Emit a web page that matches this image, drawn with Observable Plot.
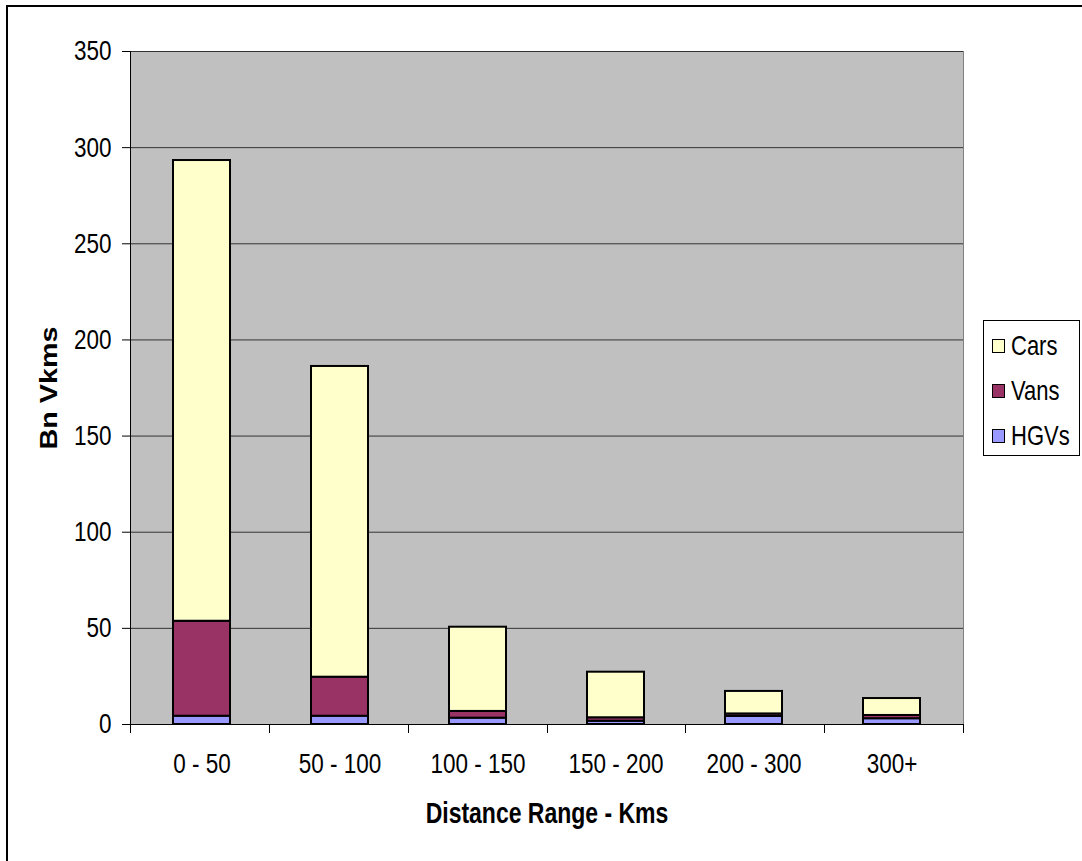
<!DOCTYPE html>
<html>
<head>
<meta charset="utf-8">
<script src="https://cdn.jsdelivr.net/npm/d3@7"></script>
<script src="https://cdn.jsdelivr.net/npm/@observablehq/plot@0.6"></script>
<style>
  html, body { margin: 0; padding: 0; background: #fff; }
  body { width: 1082px; height: 861px; overflow: hidden; position: relative; font-family: "Liberation Sans", Arial, sans-serif; }
  #frame { position: absolute; left: 6px; top: 5px; width: 1200px; height: 1000px; border: 2px solid #000; box-sizing: border-box; }
  #chart { position: absolute; left: 0; top: 0; }
  #legend { position: absolute; left: 983px; top: 320px; width: 97px; height: 136px; border: 1px solid #000; background: #fff; box-sizing: border-box; }
  #legend .item { position: absolute; left: 8px; height: 30px; display: flex; align-items: center; font-size: 22px; color: #000; }
  #legend .sw { width: 11px; height: 12px; border: 1px solid #000; margin-right: 6px; }
  #legend .item span { display: inline-block; transform: scaleY(1.25); transform-origin: center; }
</style>
</head>
<body>
<div id="frame"></div>
<div id="chart"></div>
<div id="legend"></div>
<script>
// Distance bands and billions of vehicle-km travelled by vehicle type
const ranges = ["0 - 50", "50 - 100", "100 - 150", "150 - 200", "200 - 300", "300+"];
const hgvs = [4.3, 4.3, 3.3, 1.7, 4.2, 3.0];
const vans = [49.4, 20.3, 3.5, 1.8, 1.3, 1.7];
const cars = [239.6, 161.6, 43.8, 23.7, 11.7, 8.8];
const types = ["Cars", "Vans", "HGVs"];
const colors = ["#FFFFCC", "#993366", "#9999FF"];
const yTicks = [0, 50, 100, 150, 200, 250, 300, 350];

// Stack order from the bottom up: HGVs, Vans, Cars
const rows = [];
ranges.forEach((r, i) => {
  rows.push({range: r, type: "HGVs", value: hgvs[i]});
  rows.push({range: r, type: "Vans", value: vans[i]});
  rows.push({range: r, type: "Cars", value: cars[i]});
});

const W = 1082, H = 861;
const mL = 130, mR = 119, mT = 51, mB = 137;
const font = '"Liberation Sans", Arial, sans-serif';
const textStretch = 1.25; // tall, condensed lettering

// Category boundary ticks below the x axis
function boundaryTicks(index, scales, values, dims) {
  const g = d3.create("svg:g");
  const n = ranges.length;
  const x0 = dims.marginLeft, x1 = dims.width - dims.marginRight;
  const yb = dims.height - dims.marginBottom;
  for (let i = 0; i <= n; i++) {
    const x = Math.round(x0 + (x1 - x0) * i / n) + 0.5;
    g.append("line").attr("x1", x).attr("x2", x).attr("y1", yb).attr("y2", yb + 9)
      .attr("stroke", "#000").attr("stroke-width", 1);
  }
  return g.node();
}

const chart = Plot.plot({
  width: W,
  height: H,
  marginLeft: mL,
  marginRight: mR,
  marginTop: mT,
  marginBottom: mB,
  style: {fontFamily: font, fontSize: "22.5px", color: "#000", background: "transparent", overflow: "visible"},
  x: {domain: ranges, paddingInner: 0.59, paddingOuter: 0.295, label: null},
  y: {domain: [0, 350], label: null},
  color: {domain: types, range: colors},
  marks: [
    Plot.frame({fill: "#C0C0C0", stroke: "#808080"}),
    Plot.ruleY(yTicks.slice(1), {stroke: "#333", strokeWidth: 1}),
    Plot.barY(rows, {x: "range", y: "value", fill: "type", stroke: "#000", strokeWidth: 2}),
    Plot.axisY({ticks: yTicks, tickSize: 8, tickPadding: 11, label: null, fontSize: 22.5, stroke: "#000"}),
    Plot.axisX({tickSize: 0, tickPadding: 29, label: null, fontSize: 22.5}),
    boundaryTicks,
    Plot.ruleY([0], {stroke: "#000", strokeWidth: 1}),
    Plot.text(["Distance Range - Kms"], {frameAnchor: "bottom", dy: 89, lineAnchor: "middle", textAnchor: "middle", fontWeight: "bold", fontSize: 23}),
    Plot.text(["Bn Vkms"], {frameAnchor: "left", dx: -81, rotate: -90, textAnchor: "middle", lineAnchor: "middle", fontWeight: "bold", fontSize: 23})
  ]
});
document.getElementById("chart").appendChild(chart);

// Stretch each label along its vertical glyph axis, about its own anchor
chart.querySelectorAll("text").forEach(el => {
  const t = el.getAttribute("transform") || "";
  const x = parseFloat(el.getAttribute("x")) || 0;
  const y = parseFloat(el.getAttribute("y")) || 0;
  const rotated = /rotate/.test(t);
  const sc = rotated ? `scale(${textStretch},1)` : `scale(1,${textStretch})`;
  el.setAttribute("transform", `${t} translate(${x},${y}) ${sc} translate(${-x},${-y})`.trim());
});

// Left edge of the plotting area
d3.select(chart).append("line")
  .attr("x1", mL + 0.5).attr("x2", mL + 0.5)
  .attr("y1", mT).attr("y2", H - mB)
  .attr("stroke", "#000");

// Legend
const legend = d3.select("#legend");
types.forEach((t, i) => {
  const item = legend.append("div").attr("class", "item").style("top", (10 + i * 45) + "px");
  item.append("div").attr("class", "sw").style("background", colors[i]);
  item.append("span").text(t);
});
</script>
</body>
</html>
